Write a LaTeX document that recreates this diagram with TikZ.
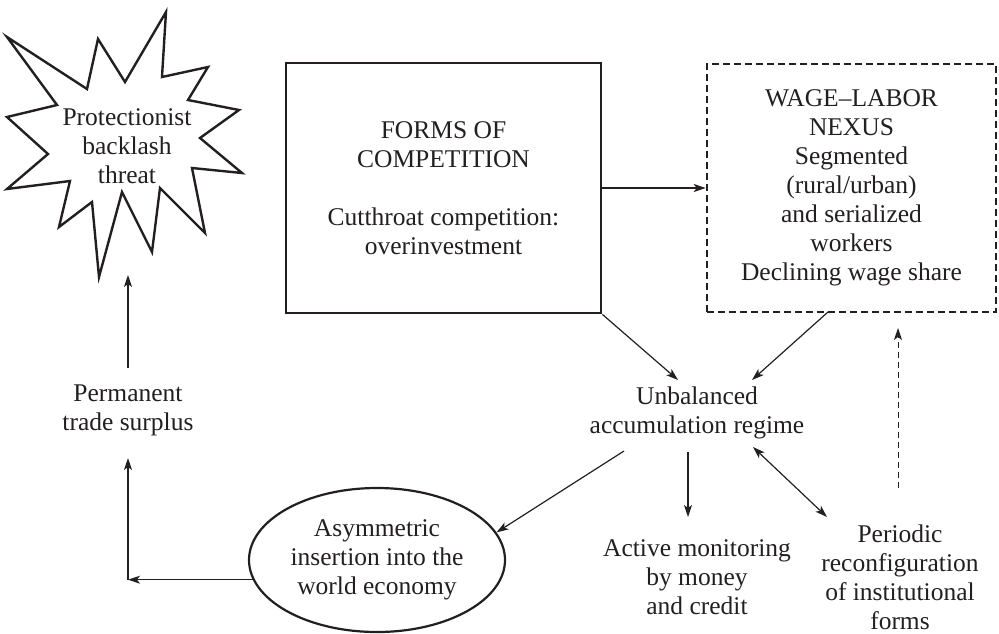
\documentclass[tikz,border=0pt]{standalone}
\usepackage{fontspec}
\setmainfont{Liberation Serif}
\usetikzlibrary{arrows.meta,shapes.geometric,calc}
\definecolor{ink}{HTML}{231F20}
\begin{document}
\begin{tikzpicture}[x=1pt,y=-1pt,
  txt/.style={align=center,text=ink,font=\fontsize{25.5}{29}\selectfont,inner sep=0pt},
  arr/.style={draw=ink,line width=1.2pt,-{Stealth[length=12pt,width=8pt,inset=3pt]}},
  dblarr/.style={draw=ink,line width=1.2pt,{Stealth[length=12pt,width=8pt,inset=3pt]}-{Stealth[length=12pt,width=8pt,inset=3pt]}},
  dasharr/.style={draw=ink,line width=1pt,dash pattern=on 6pt off 4pt,-{Stealth[length=12pt,width=8pt,inset=3pt]}},
  solidbox/.style={draw=ink,line width=2.8pt,minimum width=315pt,minimum height=250pt},
  dashbox/.style={draw=ink,line width=2.6pt,dash pattern=on 7pt off 4pt,minimum width=289pt,minimum height=248pt},
  oval/.style={draw=ink,ellipse,line width=2.2pt,minimum width=256pt,minimum height=144pt}
]
\useasboundingbox (0,0) rectangle (999,633);

% starburst
\draw[ink,line width=2.4pt,line join=miter]
  (7,37) -- (87,89) -- (98,39) -- (125,82) -- (166,12) -- (162,77) -- (208,67)
  -- (188,100) -- (239,110) -- (200,138) -- (242,173) -- (192,168) -- (205,233)
  -- (160,188) -- (152,252) -- (122,192) -- (99,277) -- (92,202) -- (59,227)
  -- (70,181) -- (7,189) -- (48,154) -- (7,117) -- (57,105) -- cycle;
\coordinate (burstbottom) at (128,275);
\node[txt] (prot) at (127,146) {Protectionist\\backlash\\threat};

\node[txt,solidbox] (forms) at (443.5,188)
  {FORMS OF\\COMPETITION\\[29pt]Cutthroat competition:\\overinvestment};
\node[txt,dashbox] (wage) at (851.5,188)
  {WAGE–LABOR\\NEXUS\\Segmented\\(rural/urban)\\and serialized\\workers\\Declining wage share};

\node[txt] (unb) at (697,413) {Unbalanced\\accumulation regime};
\node[txt] (perm) at (128,410) {Permanent\\trade surplus};
\node[txt,oval,inner sep=0pt] (ell) at (377,560) {Asymmetric\\insertion into the\\world economy};
\node[txt] (act) at (697,577) {Active monitoring\\by money\\and credit};
\node[txt] (per) at (900,577) {Periodic\\reconfiguration\\of institutional\\forms};

% connector ends
\coordinate (u1) at (678,380);
\coordinate (u2) at (752,380);
\coordinate (w1) at (828,312);
\coordinate (ua) at (624,451);
\coordinate (ud) at (688,452);
\coordinate (ad) at (688,517);
\coordinate (ub) at (753,447);
\coordinate (pb) at (827,517);
\coordinate (pd) at (898,488);
\coordinate (wd) at (898,328);
\coordinate (corner) at (128,580);
\coordinate (permbot) at (128,458);
\coordinate (permtop) at (128,368);

\draw[arr] (forms) -- (wage);
\draw[arr] (forms.south east) -- (u1);
\draw[arr] (w1) -- (u2);
\draw[arr] (ua) -- (ell.13);
\draw[arr] (ud) -- (ad);
\draw[dblarr] (ub) -- (pb);
\draw[dasharr] (pd) -- (wd);
\draw[arr] (ell.189) -- (ell.189 -| corner);
\draw[arr] (corner) -- (permbot);
\draw[arr] (permtop) -- (burstbottom);
\end{tikzpicture}
\end{document}
